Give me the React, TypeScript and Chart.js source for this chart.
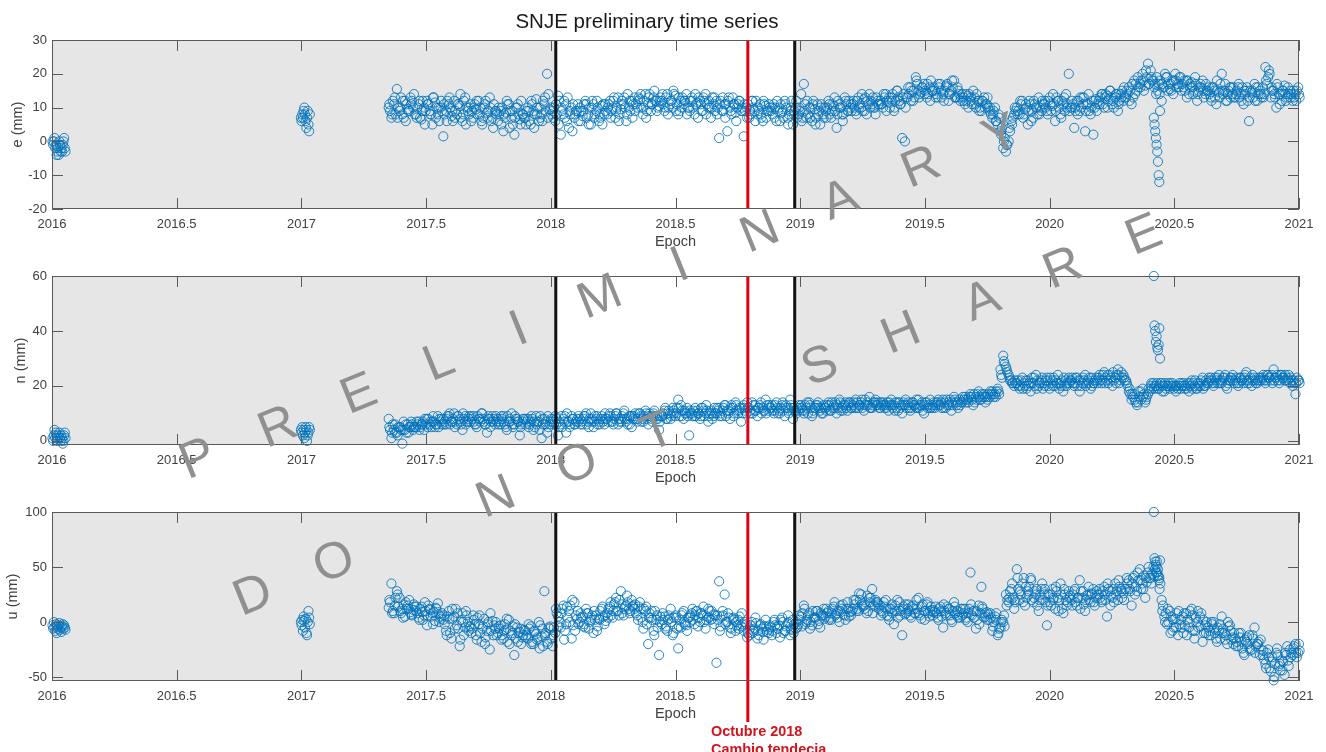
import React, { useEffect, useRef } from "react";
import { Chart, registerables } from "chart.js";

Chart.register(...registerables);

// ---------- data ----------
const DAY = 1 / 365.25;

// sampling of the segments (start epoch, step in years)
const SEG_A = { start: 2016.002, step: DAY };
const SEG_B = { start: 2016.998, step: DAY };
const SEG_C = { start: 2017.35, step: 4 * DAY };
const SEG_C3 = { start: 2017.35 + 1 * DAY, step: 4 * DAY };
const SEG_C2 = { start: 2017.35 + 2 * DAY, step: 4 * DAY };
const SEG_D = { start: 2020.418, step: DAY };

const X_TICKS = [2016, 2016.5, 2017, 2017.5, 2018, 2018.5, 2019, 2019.5, 2020, 2020.5, 2021];
const E_TICKS = [-20, -10, 0, 10, 20, 30];
const N_TICKS = [0, 20, 40, 60];
const U_TICKS = [-50, 0, 50, 100];

const WINDOW_EPOCHS = [2018.02, 2018.978];
const CHANGE_EPOCH = 2018.79;

// east (mm)
const E_A = [0, -1, 0, 1, -2, -1, -4, -3, -2, -4, 0, -1, -3, -2, -3, -1, 0, 1, -2, -3];
const E_B = [7, 6, 8, 7, 9, 10, 8, 6, 4, 7, 9, 5, 3, 8];
const E_C = [
  10, 7, 11, 15.5, 9, 8, 12, 9.5, 13, 10,
  8, 11, 6.5, 10, 12, 9, 5, 11.5, 8, 10,
  1.5, 9, 11, 7.5, 12, 8, 10.5, 6, 13, 9,
  11, 7, 9.5, 12, 6, 10, 8.5, 13, 7, 9,
  6, 9, 3, 8.5, 11, 7, 2, 10, 6.5, 8,
  7, 10, 5, 9, 12.5, 6, 8, 11, 20, 9.5,
  9, 6, 13.5, 2, 8, 11, 4, 10, 7, 9,
  10, 7.5, 12, 8, 5, 11, 9, 6, 10.5, 8,
  8, 12, 10, 7, 13, 9.5, 11, 6, 10, 12,
  13, 10, 12.5, 8, 14, 11, 9, 13, 12, 10.5,
  12, 9, 14, 11, 10, 13.5, 8, 12, 11, 14,
  10, 13, 8, 11.5, 12, 9, 14, 10, 7, 11,
  12, 1, 9, 11, 3, 10, 13, 8.5, 11, 9,
  1.5, 10, 7, 12, 9, 8, 11, 6, 10.5, 9,
  9, 11, 6, 10, 8.5, 12, 7, 9, 5, 10,
  8, 14, 17, 7, 10, 6, 9.5, 11, 5, 8,
  9, 12, 7, 10.5, 4, 11, 8, 13, 9, 10,
  11, 9, 13, 10, 12.5, 8, 14, 11, 10, 12,
  12, 10, 14, 11.5, 13, 9, 15, 12, 1, 0,
  13, 16, 12, 19, 15, 14.5, 17, 13, 16, 15,
  15, 13, 17, 14, 16.5, 12, 15, 18, 13, 14,
  14, 11, 13.5, 12, 15, 10, 12, 9, 13, 11,
  9, 7, 10, 5, 3, -2, -3, 0, 6, 8,
  10, 8, 12, 9.5, 5, 11, 7, 10, 13, 9,
  11, 9, 13, 10.5, 6, 12, 8, 11, 14, 20,
  10, 4, 12, 9, 13, 3, 11, 8, 2, 12.5,
  12, 14, 10, 13.5, 15, 11, 13, 9, 14, 12,
  13, 16, 11, 18, 15, 17, 20, 16.5, 23, 21,
  18, 14, 17, 12, 16, 19, 15.5, 18, 20, 17,
  19, 16, 18, 14, 17.5, 15, 12, 16, 18, 14,
  15, 13, 16, 11, 14.5, 20, 15, 12, 16, 14,
  13, 16, 14, 11, 15, 6, 14.5, 17, 12, 15,
  16, 22, 19, 13, 15, 10, 14, 12, 16.5, 13,
  15, 12, 14, 16,
];
const E_C3 = [
  11, 8, 13, 7, 10, 12, 6, 9, 11, 14,
  7, 12, 9, 5, 11, 8, 13, 7, 10, 12,
  11, 6, 13, 9, 7, 11, 14, 8, 5, 10,
  6, 10, 12, 8, 5, 11, 7, 10, 4, 9,
  10, 5, 8, 12, 4, 9, 7, 11, 5, 8,
  5, 9, 12, 4, 8, 10, 6, 13, 7, 10,
  7, 11, 5, 10, 12, 6, 9, 3, 8, 11,
  6, 9, 11, 5, 10, 7, 12, 8, 5, 11,
  10, 7, 12, 9, 6, 11, 13, 8, 12, 7,
  9, 12, 14, 10, 7, 13, 11, 15, 9, 12,
  14, 10, 8, 12, 15, 9, 13, 10, 12, 8,
  9, 12, 14, 7, 11, 13, 8, 12, 10, 13,
  8, 11, 13, 7, 12, 9, 11, 6, 12, 10,
  11, 7, 9, 12, 6, 10, 8, 12, 7, 11,
  10, 7, 12, 6, 9, 11, 5, 10, 8, 12,
  10, 6, 9, 12, 7, 11, 5, 8, 10, 7,
  7, 11, 9, 13, 8, 10, 6, 12, 9, 11,
  12, 8, 10, 14, 9, 12, 10, 13, 8, 11,
  11, 14, 9, 13, 12, 10, 15, 11, 13, 10,
  16, 12, 15, 18, 13, 16, 14, 17, 12, 15,
  13, 17, 15, 12, 16, 14, 18, 13, 16, 12,
  12, 14, 10, 13, 11, 14, 9, 12, 10, 13,
  10, 8, 6, 8, 2, 0, -1, 4, 5, 10,
  8, 12, 7, 11, 9, 6, 12, 10, 8, 12,
  12, 8, 11, 14, 9, 12, 7, 13, 10, 9,
  12, 10, 8, 13, 11, 9, 14, 10, 12, 9,
  11, 14, 13, 10, 15, 12, 14, 11, 13, 16,
  15, 12, 17, 14, 19, 16, 18, 21, 17, 19,
  16, 19, 14, 17, 20, 15, 17, 14, 18, 16,
  15, 18, 13, 17, 16, 19, 14, 17, 15, 17,
  16, 12, 15, 18, 13, 15, 17, 14, 13, 16,
  14, 17, 12, 15, 16, 13, 15, 12, 16, 14,
  13, 18, 21, 16, 14, 17, 11, 15, 14, 16,
  13, 15, 12, 14,
];
const E_C2 = [
  9, 12, 8, 10, 13, 7, 11, 9, 12, 8,
  10, 7, 12, 9, 11, 8, 13, 10, 6, 9,
  8, 12, 10, 6, 9, 11, 7, 12, 10, 8,
  9, 11, 8, 10, 7, 12, 9, 6, 11, 8,
  8, 10, 7, 11, 9, 5, 10, 8, 12, 7,
  9, 6, 11, 8, 10, 7, 12, 9, 14, 8,
  10, 8, 12, 9, 7, 13, 8, 11, 9, 6,
  9, 11, 7, 10, 12, 8, 10, 7, 11, 9,
  11, 9, 13, 10, 8, 12, 10, 14, 9, 11,
  11, 13, 10, 12, 9, 14, 11, 12, 10, 13,
  11, 13, 10, 12, 14, 11, 9, 13, 12, 10,
  12, 10, 11, 13, 9, 12, 11, 10, 13, 9,
  10, 12, 9, 11, 13, 8, 11, 10, 12, 9,
  9, 11, 8, 10, 12, 9, 7, 11, 9, 10,
  8, 10, 9, 11, 7, 10, 8, 12, 9, 7,
  9, 7, 11, 8, 10, 12, 7, 9, 11, 10,
  10, 8, 11, 9, 12, 10, 8, 11, 12, 9,
  10, 12, 11, 9, 13, 11, 12, 10, 13, 11,
  11, 13, 12, 10, 14, 12, 13, 11, 14, 13,
  14, 15, 13, 17, 14, 16, 15, 14, 18, 16,
  14, 16, 13, 15, 17, 14, 16, 13, 15, 13,
  13, 12, 14, 11, 13, 12, 10, 12, 11, 10,
  8, 9, 6, 7, 4, 1, -1, 3, 7, 9,
  9, 11, 8, 10, 12, 9, 11, 8, 10, 11,
  10, 12, 9, 11, 13, 10, 12, 9, 11, 10,
  11, 9, 12, 10, 13, 11, 9, 12, 10, 11,
  13, 11, 14, 12, 13, 10, 14, 12, 15, 13,
  14, 15, 13, 17, 16, 18, 15, 19, 17, 18,
  17, 15, 18, 16, 19, 17, 15, 18, 16, 19,
  17, 15, 18, 16, 14, 17, 15, 16, 13, 15,
  14, 16, 13, 15, 17, 14, 12, 15, 16, 13,
  15, 13, 16, 14, 12, 15, 13, 16, 14, 13,
  14, 17, 20, 15, 13, 16, 14, 15, 12, 14,
  14, 13, 15, 13,
];
const E_D = [7, 5, 3, 1, -1, -3, -6, -10, -12, 9];

// north (mm)
const N_A = [1, 0, 2, 4, 1, 3, 2, 0, 1, 2, 3, 1, 0, 2, 1, -1, 0, 2, 3, 1];
const N_B = [4, 3, 5, 2, 4, 1, 3, 5, 4, 0, 2, 3, 5, 4];
const N_C = [
  8, 1, 4, 3, 5, -1, 4, 6, 5, 4,
  5, 7, 6, 4, 8, 6, 7, 5, 9, 7,
  8, 6, 9, 7, 10, 6, 8, 4, 9, 7,
  7, 9, 6, 8, 10, 7, 3, 8, 9, 6,
  8, 6, 9, 5, 7, 10, 6, 8, 2, 7,
  6, 8, 7, 4, 9, 7, 1, 8, 3, 6,
  7, 9, 2, 6, 8, 3, 7, 9, 6, 8,
  8, 6, 9, 7, 10, 5, 8, 7, 9, 6,
  8, 10, 7, 9, 6, 8, 10, 7, 9, 5,
  9, 7, 10, 8, 11, 6, 9, 10, 8, 4,
  9, 11, 8, 10, 12, 9, 15, 13, 8, 10,
  2, 10, 9, 11, 8, 12, 10, 7, 11, 9,
  10, 12, 9, 13, 11, 8, 12, 14, 10, 7,
  13, 10, 12, 14, 11, 9, 13, 12, 15, 11,
  12, 10, 14, 11, 13, 9, 12, 15, 8, 11,
  11, 13, 10, 12, 14, 9, 12, 13, 11, 10,
  12, 14, 11, 13, 10, 15, 12, 13, 11, 14,
  13, 15, 12, 14, 11, 13, 16, 12, 14, 13,
  12, 14, 13, 11, 15, 13, 12, 14, 10, 13,
  13, 11, 14, 12, 15, 13, 10, 14, 12, 13,
  12, 14, 13, 15, 12, 14, 11, 16, 13, 15,
  14, 16, 15, 17, 13, 16, 18, 15, 17, 16,
  16, 18, 17, 19, 26, 31, 27, 24, 22, 20,
  21, 19, 23, 20, 22, 18, 21, 24, 20, 22,
  21, 23, 19, 22, 20, 24, 21, 18, 22, 23,
  22, 20, 23, 18, 21, 24, 22, 19, 21, 23,
  23, 21, 25, 22, 24, 20, 23, 26, 22, 24,
  22, 18, 15, 17, 13, 16, 19, 14, 17, 20,
  21, 20, 19, 21, 18, 20, 19, 21, 20, 19,
  19, 21, 20, 18, 22, 20, 19, 21, 23, 20,
  21, 23, 20, 22, 24, 21, 23, 19, 22, 24,
  22, 20, 23, 21, 25, 22, 20, 23, 21, 22,
  23, 21, 24, 22, 26, 23, 21, 24, 22, 23,
  21, 20, 17, 22,
];
const N_C3 = [
  5, 3, 6, 2, 5, 4, 6, 3, 7, 5,
  7, 4, 6, 8, 5, 7, 9, 6, 5, 8,
  6, 8, 10, 7, 5, 9, 7, 10, 6, 8,
  9, 7, 5, 8, 10, 6, 8, 5, 7, 9,
  6, 9, 7, 4, 8, 6, 9, 7, 5, 8,
  8, 5, 9, 7, 6, 4, 8, 6, 9, 7,
  8, 6, 5, 9, 7, 10, 5, 8, 6, 7,
  6, 8, 10, 5, 8, 7, 9, 6, 8, 10,
  7, 9, 6, 10, 8, 7, 11, 8, 6, 9,
  10, 8, 9, 7, 10, 9, 8, 11, 9, 7,
  9, 12, 10, 8, 11, 10, 12, 9, 11, 12,
  11, 9, 12, 10, 9, 11, 13, 9, 10, 12,
  12, 9, 11, 13, 10, 12, 9, 13, 11, 12,
  12, 14, 11, 10, 13, 12, 14, 11, 10, 13,
  13, 11, 12, 10, 14, 12, 11, 13, 12, 10,
  13, 12, 11, 14, 13, 10, 12, 14, 12, 13,
  11, 13, 14, 12, 13, 14, 11, 14, 13, 12,
  14, 12, 13, 15, 13, 14, 12, 13, 15, 14,
  14, 13, 12, 14, 13, 11, 14, 12, 13, 15,
  14, 12, 13, 15, 12, 14, 13, 12, 15, 12,
  13, 15, 14, 12, 15, 13, 14, 15, 14, 13,
  16, 15, 14, 16, 17, 15, 16, 17, 16, 15,
  18, 17, 16, 18, 24, 29, 26, 23, 21, 22,
  22, 20, 19, 22, 20, 21, 23, 19, 21, 23,
  20, 22, 23, 20, 22, 21, 20, 23, 20, 21,
  23, 21, 20, 22, 23, 20, 21, 23, 21, 22,
  24, 22, 21, 24, 22, 25, 21, 24, 25, 23,
  21, 19, 17, 15, 14, 18, 16, 15, 19, 21,
  19, 21, 20, 18, 21, 20, 21, 20, 18, 20,
  21, 20, 19, 21, 19, 22, 21, 20, 19, 22,
  23, 22, 21, 23, 21, 22, 24, 21, 23, 22,
  23, 21, 22, 23, 22, 21, 24, 22, 22, 23,
  24, 22, 23, 24, 22, 24, 22, 23, 24, 22,
  23, 22, 21, 22,
];
const N_C2 = [
  4, 6, 3, 5, 4, 7, 3, 5, 6, 5,
  6, 5, 7, 6, 8, 5, 7, 6, 8, 6,
  7, 9, 6, 8, 7, 9, 6, 8, 7, 9,
  8, 6, 9, 7, 8, 6, 9, 7, 8, 7,
  7, 8, 6, 9, 7, 5, 8, 7, 6, 8,
  7, 6, 8, 5, 7, 9, 6, 7, 5, 8,
  6, 8, 7, 5, 9, 7, 6, 8, 7, 9,
  7, 9, 6, 8, 7, 9, 6, 8, 7, 8,
  9, 7, 8, 10, 7, 9, 8, 6, 9, 8,
  8, 10, 7, 9, 8, 10, 7, 9, 8, 9,
  10, 8, 11, 9, 10, 12, 9, 11, 10, 9,
  10, 11, 9, 10, 12, 9, 11, 10, 8, 10,
  11, 10, 12, 9, 11, 13, 10, 11, 12, 10,
  11, 12, 10, 13, 11, 12, 10, 11, 13, 12,
  11, 13, 10, 12, 11, 13, 10, 12, 11, 12,
  12, 11, 13, 10, 12, 11, 13, 12, 10, 12,
  13, 11, 12, 14, 12, 11, 13, 12, 14, 12,
  12, 14, 13, 12, 15, 13, 12, 14, 13, 12,
  13, 12, 14, 13, 12, 14, 11, 13, 14, 12,
  12, 14, 13, 12, 13, 11, 14, 13, 12, 14,
  14, 13, 12, 14, 13, 15, 13, 14, 12, 14,
  15, 14, 16, 15, 14, 17, 15, 16, 14, 17,
  17, 16, 18, 17, 23, 28, 25, 22, 21, 21,
  20, 22, 21, 19, 21, 23, 20, 22, 21, 19,
  22, 20, 21, 23, 21, 19, 22, 20, 21, 22,
  21, 23, 22, 20, 22, 21, 23, 20, 22, 21,
  22, 24, 23, 21, 23, 22, 24, 21, 23, 22,
  20, 17, 16, 14, 18, 15, 17, 16, 18, 19,
  20, 19, 21, 20, 19, 21, 20, 19, 20, 21,
  20, 19, 21, 20, 21, 19, 20, 22, 20, 21,
  22, 21, 23, 21, 22, 23, 20, 22, 23, 21,
  21, 23, 22, 24, 21, 23, 22, 21, 23, 22,
  22, 24, 23, 21, 23, 22, 24, 23, 22, 24,
  22, 21, 23, 21,
];
const N_D = [60, 42, 40, 36, 38, 34, 33, 35, 41, 30];

// up (mm)
const U_A = [-3, -6, 0, -5, -8, -2, -10, -4, -6, -3, -1, -7, -5, -9, -4, -2, -6, -3, -5, -7];
const U_B = [0, -3, 2, -8, 5, 1, -5, 3, -10, -12, 0, 10, 4, -2];
const U_C = [
  13, 35, 8, 28, 22, 12, 5, 15, 9, 11,
  10, 4, 14, 6, -3, 12, 8, 1, 17, 5,
  2, -8, 10, -15, 5, -3, -22, 8, -5, 0,
  -4, 6, -12, -2, -18, 3, -8, -25, 1, -6,
  -10, -3, -15, -7, 2, -12, -30, -5, -9, -14,
  -8, -15, -4, -20, -11, 0, -13, 28, -18, -6,
  -22, -10, 5, -5, 15, -2, 10, -15, 18, 3,
  0, 5, -5, 8, 2, -10, 6, 3, 12, -2,
  8, 14, 4, 18, 10, 28, 6, 15, 12, 20,
  12, 6, 18, 0, 10, -20, 4, -8, 2, -30,
  -2, 5, -8, 3, -12, 6, -24, -5, 10, -3,
  4, 8, -2, 10, 0, 6, -6, 12, 2, 7,
  -37, 37, 5, 25, 0, -5, 3, -8, 2, -4,
  -8, -2, -12, 0, -6, -15, -3, -9, 2, -7,
  -5, 0, -10, -3, 4, -8, -1, -12, 2, -6,
  -2, 5, 15, 0, 8, -3, 4, 10, -5, 6,
  5, 10, 2, 14, 8, 0, 12, 6, 18, 9,
  12, 20, 10, 25, 15, 8, 22, 30, 14, 18,
  15, 8, 20, 5, 12, -2, 10, 18, -12, 7,
  12, 6, 15, 8, 22, 3, 10, 16, 5, 11,
  10, 4, 14, -5, 8, 12, 2, 18, 6, 9,
  6, 12, 0, 45, 10, -6, 15, 32, 4, 9,
  2, -8, 5, -12, -5, 0, 25, 18, 30, 12,
  48, 20, 35, 15, 28, 40, 18, 25, 10, 30,
  25, -3, 18, 30, 12, 22, 35, 8, 20, 28,
  20, 28, 15, 38, 22, 10, 25, 18, 30, 22,
  25, 18, 32, 5, 28, 22, 35, 20, 30, 26,
  30, 38, 15, 42, 28, 48, 35, 22, 45, 40,
  50, 45, 38, 20, 5, -2, 10, -8, 3, -12,
  2, -10, 8, -5, 12, -15, 0, 5, -18, -3,
  -5, -12, 0, -15, -8, 5, -10, -20, -3, -14,
  -15, -22, -10, -28, -18, -12, -25, -5, -20, -30,
  -30, -38, -25, -45, -53, -28, -40, -35, -48, -22,
  -25, -30, -20, -28,
];
const U_C3 = [
  20, 8, 15, 25, 10, 4, 18, 12, 7, 16,
  14, 2, 9, 18, 6, 11, -2, 13, 7, 3,
  6, -12, 3, 12, -6, 8, -16, 0, 10, -8,
  -10, 2, -16, 6, -6, -20, -2, 8, -12, 0,
  -4, -16, -8, 3, -20, -10, -2, -18, -6, -12,
  -14, -2, -20, -8, -16, -24, -6, -12, -20, -4,
  -12, 12, -4, 8, -16, 14, 0, 20, -8, 10,
  8, -4, 12, -6, 4, 10, -8, 2, 14, 6,
  4, 18, 10, 22, 6, 16, 12, 24, 8, 14,
  16, 2, 12, -6, 14, 4, 10, -12, 6, 0,
  8, -6, 2, 12, -10, 4, -4, 6, 0, -8,
  0, 12, 6, -4, 8, 14, 2, 4, 10, -2,
  6, -8, 10, -2, 8, -10, 4, 0, -6, 8,
  0, -14, -6, -10, 4, -8, -2, -16, -4, -10,
  -12, 2, -4, -14, 0, -8, 6, -6, -10, 0,
  6, -4, 12, 2, -6, 10, 4, -2, 8, 12,
  12, 2, 8, 18, 4, 10, 16, 2, 12, 6,
  20, 10, 26, 16, 12, 24, 18, 8, 20, 16,
  6, 18, 12, 2, 16, 10, 20, 6, 12, 16,
  16, 4, 12, 20, 8, 14, 2, 18, 10, 6,
  14, 2, 10, 16, 6, 12, 0, 14, 10, 4,
  12, 2, 8, 16, 4, 10, -2, 14, 8, 2,
  8, -4, 2, -10, 0, 6, 15, 22, 35, 20,
  40, 28, 18, 32, 25, 38, 22, 30, 20, 35,
  30, 15, 25, 20, 32, 10, 25, 30, 15, 22,
  15, 30, 22, 12, 28, 20, 32, 25, 18, 28,
  30, 20, 25, 35, 15, 30, 25, 38, 28, 20,
  40, 30, 35, 25, 45, 38, 30, 40, 50, 35,
  42, 55, 30, 10, 0, 12, -10, 2, -5, 10,
  -5, 8, -12, 0, 6, -8, 10, -4, 2, -10,
  -12, 0, -6, -18, -2, -10, -16, 0, -8, -20,
  -22, -10, -18, -30, -14, -24, -12, -28, -20, -16,
  -26, -42, -32, -36, -50, -24, -38, -44, -28, -35,
  -32, -24, -28, -20,
];
const U_C2 = [
  18, 10, 22, 14, 8, 16, 12, 20, 6, 14,
  8, 12, 2, 10, 15, 5, 9, 12, 0, 8,
  -2, 5, -10, 3, 12, -6, 2, -12, 6, -4,
  -6, -2, 4, -10, -4, -14, 0, -8, -3, -12,
  -6, -12, -2, -18, -8, -4, -15, -10, -20, -7,
  -12, -6, -18, -9, -14, -3, -22, -10, -5, -15,
  -5, 8, 0, 12, -8, 4, 15, -3, 6, -2,
  4, -2, 8, 0, 6, 2, -4, 10, 5, 1,
  12, 6, 16, 10, 20, 8, 14, 18, 10, 15,
  8, 14, 4, 12, -2, 8, 2, 10, -5, 5,
  2, -4, 6, 0, 4, -6, 2, 8, -2, 4,
  6, 2, 10, 4, 8, 0, 5, 10, 3, 6,
  2, -4, 6, 0, 4, -6, 2, -3, 5, -2,
  -5, -10, -3, -8, -1, -12, -6, -4, -9, -3,
  -8, -3, -6, 2, -10, -4, 0, -7, -2, -5,
  2, 8, -2, 6, 0, 4, 10, 1, 6, 3,
  8, 4, 12, 6, 10, 15, 7, 12, 5, 10,
  16, 12, 20, 14, 18, 10, 22, 15, 18, 12,
  10, 14, 6, 12, 8, 15, 4, 10, 14, 8,
  10, 14, 8, 12, 6, 16, 10, 8, 14, 9,
  8, 12, 5, 10, 14, 6, 10, 8, 4, 12,
  8, 4, 12, 6, 10, 2, 8, 12, 5, 7,
  4, 0, 8, -6, 2, -4, 20, 28, 22, 18,
  30, 25, 40, 22, 32, 20, 28, 15, 25, 20,
  18, 25, 15, 22, 28, 20, 12, 25, 18, 24,
  25, 18, 22, 28, 16, 24, 20, 26, 15, 25,
  22, 28, 20, 30, 24, 18, 28, 32, 22, 30,
  35, 28, 40, 32, 38, 30, 42, 36, 40, 44,
  48, 42, 35, 15, 8, 0, 5, -5, 8, -2,
  5, -3, 2, 10, -8, 4, -5, 8, -10, 0,
  -8, -2, -10, -5, -15, -6, -12, -4, -16, -10,
  -18, -14, -24, -16, -20, -26, -15, -22, -18, -25,
  -34, -28, -42, -32, -38, -30, -44, -36, -30, -40,
  -28, -22, -32, -26,
];
const U_D = [100, 58, 55, 52, 50, 45, 48, 42, 40, 56];

// ---------- helpers ----------
type Pt = { x: number; y: number };
type Seg = { start: number; step: number };
const seg = (s: Seg, vals: number[]): Pt[] => vals.map((v, i) => ({ x: s.start + i * s.step, y: v }));
const series = (a: number[], b: number[], c: number[], c3: number[], c2: number[], d: number[]): Pt[] => [
  ...seg(SEG_A, a),
  ...seg(SEG_B, b),
  ...seg(SEG_C, c),
  ...seg(SEG_C3, c3),
  ...seg(SEG_C2, c2),
  ...seg(SEG_D, d),
];

const FONT = "'Liberation Sans', Arial, Helvetica, sans-serif";
const BLUE = "rgba(0,114,189,0.85)";
const BG_GRAY = "#e6e6e6";
const AXIS_COLOR = "#5a5a5a";
const TEXT_COLOR = "#404040";
const RED = "#e0000f";

type PanelCfg = {
  top: number;
  height: number;
  padTop: number;
  xAxisH: number;
  yMin: number;
  yMax: number;
  yTicks: number[];
  yLabel: string;
  yLabelX: number;
  data: Pt[];
  title?: string;
  annotate?: boolean;
};

function makePlugin(cfg: PanelCfg) {
  return {
    id: "figure",
    beforeDatasetsDraw(chart: any) {
      const { ctx, chartArea: a, scales } = chart;
      const x = scales.x;
      ctx.save();
      ctx.fillStyle = BG_GRAY;
      ctx.fillRect(a.left, a.top, a.right - a.left, a.bottom - a.top);
      const x1 = x.getPixelForValue(WINDOW_EPOCHS[0]);
      const x2 = x.getPixelForValue(WINDOW_EPOCHS[1]);
      ctx.fillStyle = "#ffffff";
      ctx.fillRect(x1, a.top, x2 - x1, a.bottom - a.top);
      ctx.restore();
    },
    afterDatasetsDraw(chart: any) {
      const { ctx, chartArea: a, scales } = chart;
      const x = scales.x;
      const y = scales.y;
      ctx.save();
      // window lines
      ctx.strokeStyle = "#111111";
      ctx.lineWidth = 3;
      WINDOW_EPOCHS.forEach((ep) => {
        const px = x.getPixelForValue(ep);
        ctx.beginPath();
        ctx.moveTo(px, a.top);
        ctx.lineTo(px, a.bottom);
        ctx.stroke();
      });
      // change line
      const rx = x.getPixelForValue(CHANGE_EPOCH);
      ctx.strokeStyle = RED;
      ctx.lineWidth = 3;
      ctx.beginPath();
      ctx.moveTo(rx, a.top);
      ctx.lineTo(rx, cfg.annotate ? a.bottom + 41 : a.bottom);
      ctx.stroke();

      // box
      ctx.strokeStyle = AXIS_COLOR;
      ctx.lineWidth = 1;
      ctx.strokeRect(a.left + 0.5, a.top + 0.5, a.right - a.left - 1, a.bottom - a.top - 1);
      // ticks (inward, both sides)
      const TL = 11;
      ctx.beginPath();
      X_TICKS.forEach((v) => {
        const px = Math.round(x.getPixelForValue(v)) + 0.5;
        ctx.moveTo(px, a.bottom);
        ctx.lineTo(px, a.bottom - TL);
        ctx.moveTo(px, a.top);
        ctx.lineTo(px, a.top + TL);
      });
      cfg.yTicks.forEach((v) => {
        const py = Math.round(y.getPixelForValue(v)) + 0.5;
        ctx.moveTo(a.left, py);
        ctx.lineTo(a.left + TL, py);
        ctx.moveTo(a.right, py);
        ctx.lineTo(a.right - TL, py);
      });
      ctx.stroke();

      // axis titles
      ctx.fillStyle = TEXT_COLOR;
      ctx.font = `14.5px ${FONT}`;
      ctx.textAlign = "center";
      ctx.textBaseline = "middle";
      ctx.fillText("Epoch", (a.left + a.right) / 2, a.bottom + 33);
      ctx.save();
      ctx.translate(cfg.yLabelX, (a.top + a.bottom) / 2);
      ctx.rotate(-Math.PI / 2);
      ctx.fillText(cfg.yLabel, 0, 0);
      ctx.restore();

      if (cfg.title) {
        ctx.fillStyle = "#1a1a1a";
        ctx.font = `20.5px ${FONT}`;
        ctx.fillText(cfg.title, 647, 22);
      }
      if (cfg.annotate) {
        ctx.fillStyle = "#d2121c";
        ctx.font = `bold 14.4px ${FONT}`;
        ctx.textAlign = "left";
        ctx.fillText("Octubre 2018", 711, a.bottom + 51);
        ctx.fillText("Cambio tendecia", 711, a.bottom + 69);
      }
      ctx.restore();
    },
  };
}

function Panel({ cfg }: { cfg: PanelCfg }) {
  const ref = useRef<HTMLCanvasElement>(null);
  useEffect(() => {
    const canvas = ref.current;
    if (!canvas) return;
    const chart = new Chart(canvas, {
      type: "scatter",
      data: {
        datasets: [
          {
            data: cfg.data,
            pointRadius: 4.6,
            pointBorderWidth: 1,
            pointBorderColor: BLUE,
            pointBackgroundColor: "rgba(0,0,0,0)",
            pointStyle: "circle",
            showLine: false,
            clip: false,
          } as any,
        ],
      },
      options: {
        responsive: false,
        animation: false,
        events: [],
        layout: { padding: { top: cfg.padTop, right: 27, left: 0, bottom: 0 } },
        plugins: { legend: { display: false }, tooltip: { enabled: false }, title: { display: false } },
        scales: {
          x: {
            type: "linear",
            min: 2016,
            max: 2021,
            afterBuildTicks: (s: any) => {
              s.ticks = X_TICKS.map((v) => ({ value: v }));
            },
            afterFit: (s: any) => {
              s.height = cfg.xAxisH;
            },
            grid: { display: false, drawTicks: false },
            border: { display: false },
            ticks: {
              padding: 8,
              color: TEXT_COLOR,
              font: { family: FONT, size: 13 },
              maxRotation: 0,
              autoSkip: false,
              callback: (v: any) => String(v),
            },
          },
          y: {
            type: "linear",
            min: cfg.yMin,
            max: cfg.yMax,
            afterBuildTicks: (s: any) => {
              s.ticks = cfg.yTicks.map((v) => ({ value: v }));
            },
            afterFit: (s: any) => {
              s.width = 52;
            },
            grid: { display: false, drawTicks: false },
            border: { display: false },
            ticks: {
              padding: 5,
              color: TEXT_COLOR,
              font: { family: FONT, size: 13 },
              autoSkip: false,
              callback: (v: any) => String(v),
            },
          },
        },
      },
      plugins: [makePlugin(cfg)],
    } as any);
    return () => chart.destroy();
  }, []);
  return (
    <canvas
      ref={ref}
      width={1326}
      height={cfg.height}
      style={{ position: "absolute", left: 0, top: cfg.top, width: 1326, height: cfg.height }}
    />
  );
}

const PRELIM = "PRELIMINARY";
const DONOT = "DO NOT SHARE";

function Watermark() {
  const letters: { ch: string; x: number; y: number }[] = [];
  PRELIM.split("").forEach((ch, i) => letters.push({ ch, x: 197 + i * 80.3, y: 457 - i * 32.4 }));
  DONOT.split("").forEach((ch, i) => {
    if (ch !== " ") letters.push({ ch, x: 252 + i * 81, y: 593 - i * 32.7 });
  });
  return (
    <div style={{ position: "absolute", left: 0, top: 0, width: 1326, height: 752, pointerEvents: "none" }}>
      {letters.map((l, i) => (
        <span
          key={i}
          style={{
            position: "absolute",
            left: l.x,
            top: l.y,
            transform: "translate(-50%, -50%) rotate(-22deg)",
            fontFamily: FONT,
            fontSize: 51,
            lineHeight: 1,
            color: "#909090",
          }}
        >
          {l.ch}
        </span>
      ))}
    </div>
  );
}

const PANELS: PanelCfg[] = [
  {
    top: 0, height: 262, padTop: 40, xAxisH: 53, yMin: -20, yMax: 30, yTicks: E_TICKS,
    yLabel: "e (mm)", yLabelX: 18, data: series(E_A, E_B, E_C, E_C3, E_C2, E_D), title: "SNJE preliminary time series",
  },
  {
    top: 262, height: 236, padTop: 14, xAxisH: 53, yMin: -1.5, yMax: 60, yTicks: N_TICKS,
    yLabel: "n (mm)", yLabelX: 21, data: series(N_A, N_B, N_C, N_C3, N_C2, N_D),
  },
  {
    top: 498, height: 254, padTop: 14, xAxisH: 71, yMin: -53.6, yMax: 100, yTicks: U_TICKS,
    yLabel: "u (mm)", yLabelX: 13, data: series(U_A, U_B, U_C, U_C3, U_C2, U_D), annotate: true,
  },
];

export default function App() {
  useEffect(() => {
    document.body.style.margin = "0";
  }, []);
  return (
    <div style={{ position: "absolute", left: 0, top: 0, width: 1326, height: 752, overflow: "hidden", background: "#fff" }}>
      {PANELS.map((p, i) => (
        <Panel key={i} cfg={p} />
      ))}
      <Watermark />
    </div>
  );
}
